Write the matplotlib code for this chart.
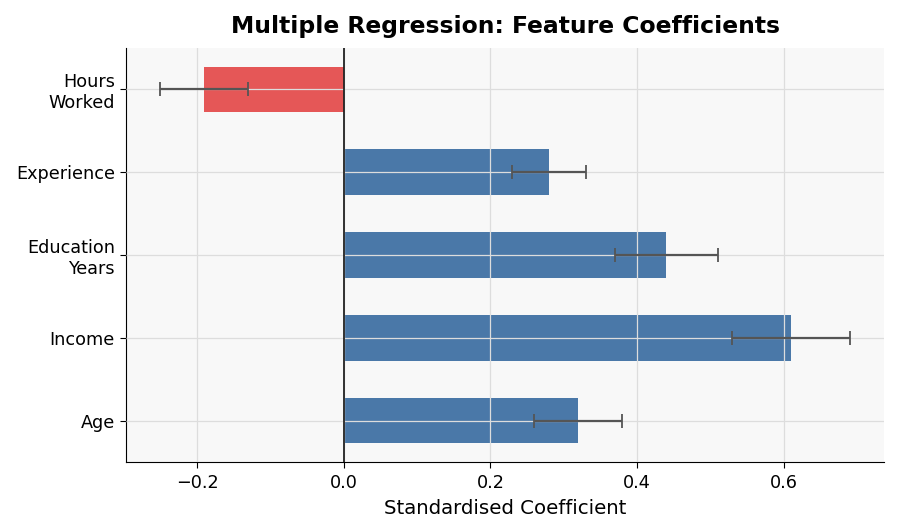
import numpy as np
import matplotlib.pyplot as plt

# coefficient data
features = ['Age', 'Income', 'Education\nYears', 'Experience', 'Hours\nWorked']
coefs = [0.32, 0.61, 0.44, 0.28, -0.19]
errors = [0.06, 0.08, 0.07, 0.05, 0.06]

colors = ['#4a78a8' if c >= 0 else '#e55757' for c in coefs]

fig = plt.figure(figsize=(8.97, 5.32), dpi=100)
ax = fig.add_axes([0.1405, 0.1316, 0.845, 0.7782])
ax.set_facecolor('#f8f8f8')

y = np.arange(len(features))
ax.barh(y, coefs, height=0.55, color=colors, zorder=1)
ax.errorbar(coefs, y, xerr=errors, fmt='none', ecolor='#555555',
            capsize=5, elinewidth=1.6, capthick=1.3, zorder=3)
ax.axvline(0, color='#222222', linewidth=1.3, zorder=3)

ax.set_yticks(y)
ax.set_yticklabels(features, fontsize=12.7)
ax.tick_params(axis='x', labelsize=12.7, pad=4.5)
ax.tick_params(length=4.5)
ax.set_ylim(-0.5, 4.5)

ax.grid(True, color='#dddddd', linewidth=0.9, zorder=2)
ax.set_axisbelow(False)
for gl in ax.get_xgridlines() + ax.get_ygridlines():
    gl.set_zorder(2)

for s in ['top', 'right']:
    ax.spines[s].set_visible(False)

ax.set_xlabel('Standardised Coefficient', fontsize=14.2, labelpad=5)
ax.set_title('Multiple Regression: Feature Coefficients', fontsize=16.9,
             fontweight='bold', pad=11)

fig.savefig('out.png', dpi=100)
